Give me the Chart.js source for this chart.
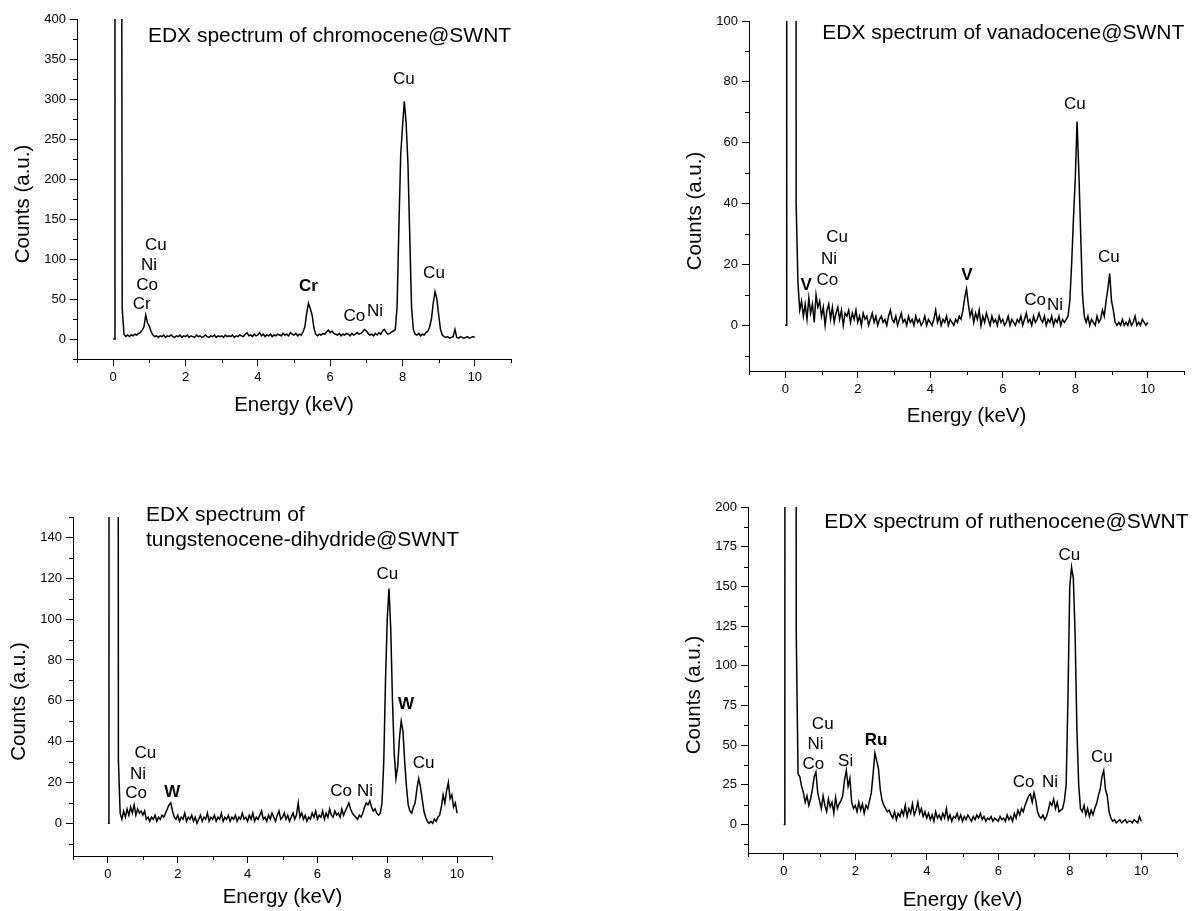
<!DOCTYPE html>
<html>
<head>
<meta charset="utf-8">
<title>EDX spectra of metallocene@SWNT</title>
<script src="https://cdn.jsdelivr.net/npm/chart.js@4.4.1/dist/chart.umd.min.js"></script>
<style>
  html, body { margin: 0; padding: 0; background: #fff; }
  body { width: 1194px; height: 911px; position: relative; overflow: hidden; }
  canvas { position: absolute; }
</style>
</head>
<body>
<canvas id="crChart"></canvas>
<canvas id="vChart"></canvas>
<canvas id="wChart"></canvas>
<canvas id="ruChart"></canvas>
<script>
// energy channel width of the sampled counts (keV)
const channelStep = 0.05;
const xMajorTicks = [0, 2, 4, 6, 8, 10];
const xMinorTicks = [-1, 1, 3, 5, 7, 9, 11];

// ---- chromocene@SWNT ----
// zero-energy peak, runs far off the top of the plot
const crZeroPeak = [[0, 0], [0.04, 0], [0.05, 1000], [0.22, 1000], [0.25, 38]];
const crStart = 0.30;
const crCounts = [
  6, 3, 5, 3, 5, 4, 6, 5, 7, 8, 11, 15, 30, 20,
  16, 9, 5, 3, 4, 2, 4, 3, 5, 2, 4, 3, 5, 3, 2, 4, 3, 5, 2, 4,
  3, 5, 2, 4, 3, 2, 5, 3, 4, 2, 3, 5, 3, 2, 4, 3, 5, 2, 4, 3,
  4, 2, 5, 3, 4, 3, 5, 2, 4, 3, 5, 4, 3, 6, 8, 4, 5, 3, 6, 4,
  5, 8, 4, 6, 3, 5, 4, 6, 3, 5, 4, 6, 5, 4, 7, 5, 6, 4, 8, 6,
  5, 7, 4, 6, 5, 9, 15, 32, 45, 38, 30, 14, 6, 4, 6, 5, 7, 6, 9, 11,
  8, 10, 7, 6, 5, 7, 4, 6, 5, 7, 6, 4, 7, 5, 6, 8, 6, 7, 9, 12,
  10, 7, 5, 6, 4, 7, 5, 8, 6, 10, 12, 8, 6, 7, 9, 10, 12, 40, 140, 230,
  265, 297, 270, 220, 130, 40, 12, 6, 5, 7, 4, 6, 5, 8, 10, 15, 25, 45, 59, 50,
  30, 12, 5, 3, 2, 3, 1, 2, 3, 12, 2, 1, 3, 2, 1, 2, 3, 1, 2, 3,
  2
];
const crYTicks = [0, 50, 100, 150, 200, 250, 300, 350, 400];
const crYMinor = [-25, 25, 75, 125, 175, 225, 275, 325, 375];
const crTitle = [['EDX spectrum of chromocene@SWNT', 0.96, 379]];
const crLabels = [
  ['Cu', 8.04, 325], ['Cu', 8.87, 82], ['Cr', 5.40, 66, true],
  ['Co', 6.67, 28], ['Ni', 7.24, 34],
  ['Cu', 1.18, 117], ['Ni', 0.99, 92], ['Co', 0.94, 67], ['Cr', 0.79, 43]
];

// ---- vanadocene@SWNT ----
const vZeroPeak = [[0, 0], [0.03, 0], [0.04, 1000], [0.28, 1000], [0.30, 40]];
const vStart = 0.35;
const vCounts = [
  14, 5, 8, 3, 7, 2, 9, 4, 7, 1, 10, 6, 8,
  3, 6, 0, 5, 7, 2, 6, 1, 4, 6, 2, 5, 0, 4, 3, 5, 1, 4, 2, 5,
  1, 3, 0, 4, 2, 3, 0, 2, 4, 1, 3, 0, 2, 3, 1, 2, 0, 3, 5, 2,
  1, 3, 0, 2, 4, 1, 2, 0, 3, 1, 2, 0, 3, 1, 2, 0, 1, 3, 0, 2,
  1, 0, 2, 5, 1, 3, 0, 2, 1, 3, 0, 2, 1, 0, 2, 1, 3, 2, 5, 9,
  12, 7, 3, 5, 1, 4, 2, 5, 0, 3, 1, 4, 2, 0, 3, 1, 2, 0, 3, 1,
  2, 0, 1, 3, 0, 2, 1, 0, 2, 1, 3, 0, 2, 4, 1, 2, 0, 3, 1, 2,
  4, 2, 1, 3, 0, 2, 1, 3, 0, 2, 1, 3, 0, 2, 1, 2, 3, 8, 20, 35,
  48, 67, 50, 30, 10, 3, 1, 3, 0, 2, 1, 0, 3, 1, 2, 5, 3, 8, 12, 17,
  8, 5, 1, 0, 1, 0, 2, 0, 1, 0, 2, 0, 1, 3, 0, 1, 0, 2, 1, 0,
  1
];
const vYTicks = [0, 20, 40, 60, 80, 100];
const vYMinor = [-10, 10, 30, 50, 70, 90];
const vTitle = [['EDX spectrum of vanadocene@SWNT', 1.02, 96]];
const vLabels = [
  ['Cu', 7.99, 72.5], ['Cu', 8.93, 22.3], ['V', 5.01, 16.4, true], ['V', 0.58, 13.1, true],
  ['Co', 1.16, 14.8], ['Ni', 1.21, 21.6], ['Cu', 1.43, 28.8],
  ['Co', 6.89, 8.2], ['Ni', 7.44, 6.6]
];

// ---- tungstenocene-dihydride@SWNT ----
const wZeroPeak = [[0, 0], [0.03, 0], [0.04, 1000], [0.27, 1000], [0.30, 31]];
const wStart = 0.35;
const wCounts = [
  5, 2, 6, 3, 7, 4, 8, 5, 9, 4, 7, 5, 6,
  4, 6, 2, 3, 1, 3, 2, 4, 1, 3, 2, 4, 3, 5, 7, 9, 10, 6, 3, 2,
  4, 1, 3, 2, 5, 1, 3, 2, 4, 1, 3, 0, 2, 4, 1, 3, 2, 5, 1, 3,
  2, 4, 1, 3, 2, 5, 1, 3, 2, 4, 1, 3, 2, 4, 1, 3, 2, 5, 2, 3,
  1, 4, 2, 5, 1, 3, 2, 4, 6, 2, 3, 1, 4, 2, 5, 3, 1, 4, 6, 2,
  3, 5, 2, 4, 1, 3, 5, 2, 4, 10, 3, 5, 2, 4, 1, 3, 2, 5, 3, 6,
  2, 4, 3, 6, 2, 5, 3, 7, 4, 3, 6, 4, 5, 3, 7, 4, 6, 8, 10, 7,
  5, 4, 3, 2, 4, 3, 5, 8, 10, 9, 11, 8, 6, 7, 5, 4, 5, 10, 30, 70,
  100, 115, 95, 60, 34, 22, 28, 42, 50, 45, 30, 18, 9, 6, 5, 8, 10, 17, 22, 18,
  12, 6, 3, 1, 0, 1, 0, 2, 1, 3, 4, 8, 14, 10, 16, 20, 12, 14, 8, 10,
  5
];
const wYTicks = [0, 20, 40, 60, 80, 100, 120, 140];
const wYMinor = [-10, 10, 30, 50, 70, 90, 110, 130, 150];
const wTitle = [['EDX spectrum of', 1.09, 151], ['tungstenocene-dihydride@SWNT', 1.09, 138.4]];
const wLabels = [
  ['Cu', 8.00, 121.8], ['W', 8.54, 58.3, true], ['Cu', 9.04, 29.5], ['W', 1.84, 15.4, true],
  ['Co', 0.81, 14.8], ['Ni', 0.86, 24.1], ['Cu', 1.07, 34.3],
  ['Co', 6.68, 15.7], ['Ni', 7.36, 15.7]
];

// ---- ruthenocene@SWNT ----
const ruZeroPeak = [[0, 0], [0.03, 0], [0.04, 1000], [0.32, 1000], [0.35, 120]];
const ruStart = 0.40;
const ruCounts = [
  32, 30, 24, 20, 14, 18, 12, 16, 22, 30, 33, 20,
  15, 10, 18, 12, 8, 16, 11, 14, 7, 17, 10, 13, 15, 18, 28, 34, 24, 29, 14, 10,
  12, 8, 14, 9, 13, 7, 12, 10, 15, 20, 32, 45, 40, 35, 22, 15, 12, 10, 8, 9,
  6, 4, 8, 3, 7, 5, 9, 6, 12, 5, 10, 7, 13, 6, 9, 14, 7, 10, 5, 8,
  4, 7, 3, 6, 2, 8, 4, 6, 3, 7, 4, 10, 3, 6, 2, 5, 4, 7, 3, 6,
  2, 5, 3, 6, 4, 2, 5, 3, 6, 4, 7, 3, 5, 2, 4, 3, 5, 2, 4, 3,
  2, 5, 3, 4, 2, 6, 3, 5, 2, 7, 4, 9, 6, 10, 8, 12, 15, 18, 19, 14,
  20, 15, 8, 5, 4, 6, 3, 5, 9, 14, 12, 16, 10, 14, 8, 9, 10, 15, 25, 80,
  150, 162, 155, 120, 60, 25, 10, 8, 12, 6, 10, 5, 9, 6, 10, 13, 18, 22, 30, 34,
  22, 18, 8, 4, 2, 3, 1, 2, 3, 1, 2, 3, 1, 2, 2, 1, 3, 2, 1, 5,
  2
];
const ruYTicks = [0, 25, 50, 75, 100, 125, 150, 175, 200];
const ruYMinor = [-12.5, 12.5, 37.5, 62.5, 87.5, 112.5, 137.5, 162.5, 187.5];
const ruTitle = [['EDX spectrum of ruthenocene@SWNT', 1.13, 190.7]];
const ruLabels = [
  ['Cu', 7.99, 169.5], ['Cu', 8.90, 42.6], ['Ru', 2.58, 52.8, true], ['Si', 1.73, 39.5],
  ['Co', 0.83, 38], ['Ni', 0.89, 50.7], ['Cu', 1.09, 63],
  ['Co', 6.71, 26.5], ['Ni', 7.45, 26.5]
];

const FONT = '"Liberation Sans", Arial, sans-serif';

// canvas box and plot-area box, page pixels
const panels = [
  { id: 'crChart', zero: crZeroPeak, start: crStart, counts: crCounts, yMin: -25, yMax: 400,
    yTicks: crYTicks, yMinor: crYMinor, title: crTitle, labels: crLabels,
    canvas: [0, 0, 597, 455], area: [77, 19, 511, 359], xTitleGap: 46 },
  { id: 'vChart', zero: vZeroPeak, start: vStart, counts: vCounts, yMin: -15, yMax: 100,
    yTicks: vYTicks, yMinor: vYMinor, title: vTitle, labels: vLabels,
    canvas: [597, 0, 597, 455], area: [749, 21, 1184, 371], xTitleGap: 45 },
  { id: 'wChart', zero: wZeroPeak, start: wStart, counts: wCounts, yMin: -16, yMax: 150,
    yTicks: wYTicks, yMinor: wYMinor, title: wTitle, labels: wLabels,
    canvas: [0, 455, 597, 456], area: [73, 517, 492, 856], xTitleGap: 41 },
  { id: 'ruChart', zero: ruZeroPeak, start: ruStart, counts: ruCounts, yMin: -18, yMax: 200,
    yTicks: ruYTicks, yMinor: ruYMinor, title: ruTitle, labels: ruLabels,
    canvas: [597, 455, 597, 456], area: [748, 507, 1177, 853], xTitleGap: 47 }
];

function drawPanel(p) {
  const [cl, ct, cw, ch] = p.canvas;
  const [al, at, ar, ab] = p.area;
  const el = document.getElementById(p.id);
  el.width = cw;
  el.height = ch;
  el.style.left = cl + 'px';
  el.style.top = ct + 'px';

  const points = p.zero.map(([x, y]) => ({ x, y }))
    .concat(p.counts.map((y, i) => ({ x: +(p.start + i * channelStep).toFixed(2), y })));

  const decor = {
    id: 'decor',
    afterDraw(chart) {
      const { ctx, chartArea: a, scales: { x, y } } = chart;
      ctx.save();
      ctx.strokeStyle = '#000';
      ctx.lineWidth = 1;
      ctx.beginPath();
      xMinorTicks.forEach(v => {
        const px = Math.round(x.getPixelForValue(v)) + 0.5;
        ctx.moveTo(px, a.bottom);
        ctx.lineTo(px, a.bottom + 4);
      });
      p.yMinor.forEach(v => {
        const py = Math.round(y.getPixelForValue(v)) + 0.5;
        ctx.moveTo(a.left, py);
        ctx.lineTo(a.left - 4, py);
      });
      ctx.stroke();

      ctx.fillStyle = '#000';
      ctx.textBaseline = 'middle';

      // axis titles
      ctx.font = '20.5px ' + FONT;
      ctx.textAlign = 'center';
      ctx.fillText('Energy (keV)', (a.left + a.right) / 2, a.bottom + p.xTitleGap);
      ctx.save();
      ctx.translate(a.left - 54, (a.top + a.bottom) / 2 + 15);
      ctx.rotate(-Math.PI / 2);
      ctx.fillText('Counts (a.u.)', 0, 0);
      ctx.restore();

      // spectrum title
      ctx.font = '21px ' + FONT;
      ctx.textAlign = 'left';
      p.title.forEach(([t, ex, ey]) => {
        ctx.fillText(t, x.getPixelForValue(ex), y.getPixelForValue(ey));
      });

      // peak labels
      ctx.textAlign = 'center';
      p.labels.forEach(([t, ex, ey, bold]) => {
        ctx.font = (bold ? 'bold ' : '') + '17px ' + FONT;
        ctx.fillText(t, x.getPixelForValue(ex), y.getPixelForValue(ey));
      });
      ctx.restore();
    }
  };

  return new Chart(el, {
    type: 'line',
    data: {
      datasets: [{
        data: points,
        borderColor: '#000',
        borderWidth: 1.5,
        pointRadius: 0,
        tension: 0,
        fill: false
      }]
    },
    options: {
      responsive: false,
      animation: false,
      events: [],
      layout: { padding: { left: 4, top: at - ct, right: cl + cw - ar, bottom: 4 } },
      plugins: { legend: { display: false }, tooltip: { enabled: false } },
      scales: {
        x: {
          type: 'linear',
          min: -1,
          max: 11,
          afterBuildTicks: s => { s.ticks = xMajorTicks.map(v => ({ value: v })); },
          afterFit: s => { s.height = ct + ch - ab - 4; },
          grid: { drawOnChartArea: false, tickLength: 7, tickColor: '#000', color: '#000' },
          border: { color: '#000', width: 1 },
          ticks: { color: '#000', padding: 4, maxRotation: 0, autoSkip: false, font: { family: FONT, size: 13 } }
        },
        y: {
          type: 'linear',
          min: p.yMin,
          max: p.yMax,
          afterBuildTicks: s => { s.ticks = p.yTicks.map(v => ({ value: v })); },
          afterFit: s => { s.width = al - cl - 4; },
          grid: { drawOnChartArea: false, tickLength: 7, tickColor: '#000', color: '#000' },
          border: { color: '#000', width: 1 },
          ticks: { color: '#000', padding: 4, autoSkip: false, font: { family: FONT, size: 13 } }
        }
      }
    },
    plugins: [decor]
  });
}

panels.forEach(drawPanel);
</script>
</body>
</html>
